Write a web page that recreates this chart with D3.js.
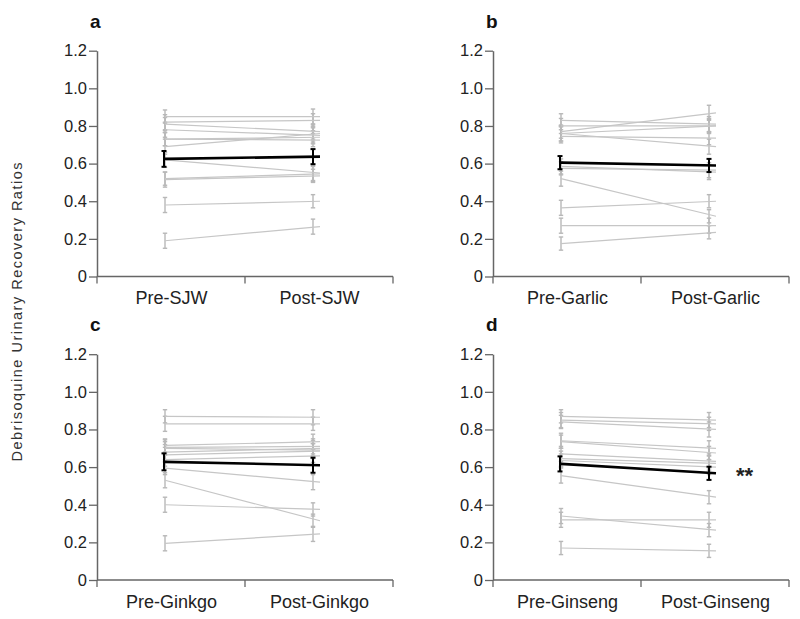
<!DOCTYPE html>
<html><head><meta charset="utf-8">
<script src="https://cdn.jsdelivr.net/npm/d3@7"></script>
<style>body{margin:0;background:#fff}svg{display:block}text{font-family:"Liberation Sans",Arial,sans-serif}</style>
</head><body><svg id="c" width="800" height="619"></svg>
<script>
const yTicks = [0, 0.2, 0.4, 0.6, 0.8, 1.0, 1.2];
const yTickLabels = ["0", "0.2", "0.4", "0.6", "0.8", "1.0", "1.2"];
const panelLetters = ["a", "b", "c", "d"];
const categoriesA = ["Pre-SJW", "Post-SJW"];
const categoriesB = ["Pre-Garlic", "Post-Garlic"];
const categoriesC = ["Pre-Ginkgo", "Post-Ginkgo"];
const categoriesD = ["Pre-Ginseng", "Post-Ginseng"];

const preA  = [0.85, 0.82, 0.81, 0.78, 0.73, 0.69, 0.62, 0.52, 0.515, 0.38, 0.19, 0.73];
const postA = [0.85, 0.83, 0.77, 0.75, 0.725, 0.76, 0.55, 0.545, 0.535, 0.40, 0.265, 0.74];
const preB  = [0.83, 0.80, 0.77, 0.76, 0.745, 0.76, 0.585, 0.575, 0.52, 0.365, 0.27, 0.175];
const postB = [0.81, 0.80, 0.87, 0.80, 0.735, 0.69, 0.555, 0.565, 0.32, 0.40, 0.27, 0.235];
const preC  = [0.87, 0.83, 0.715, 0.705, 0.70, 0.68, 0.665, 0.595, 0.53, 0.40, 0.195, 0.64];
const postC = [0.865, 0.83, 0.735, 0.71, 0.69, 0.70, 0.685, 0.52, 0.315, 0.375, 0.245, 0.66];
const preD  = [0.87, 0.85, 0.84, 0.74, 0.735, 0.67, 0.645, 0.635, 0.555, 0.34, 0.32, 0.17];
const postD = [0.85, 0.83, 0.80, 0.70, 0.675, 0.63, 0.62, 0.60, 0.44, 0.265, 0.32, 0.155];
const indivErr = [0.035, 0.04, 0.035, 0.04, 0.035, 0.04, 0.04, 0.035, 0.04, 0.04, 0.04, 0.035];

const meanA = [0.625, 0.637], meanErrA = [0.042, 0.04];
const meanB = [0.605, 0.59],  meanErrB = [0.035, 0.035];
const meanC = [0.628, 0.61],  meanErrC = [0.045, 0.04];
const meanD = [0.617, 0.567], meanErrD = [0.04, 0.035];
const significance = ["", "", "", "**"];

const panels = [
  {cats: categoriesA, pre: preA, post: postA, mean: meanA, mErr: meanErrA, left: 97, top: 50.7, bottom: 276.5},
  {cats: categoriesB, pre: preB, post: postB, mean: meanB, mErr: meanErrB, left: 493, top: 50.7, bottom: 276.5},
  {cats: categoriesC, pre: preC, post: postC, mean: meanC, mErr: meanErrC, left: 97, top: 354.2, bottom: 580},
  {cats: categoriesD, pre: preD, post: postD, mean: meanD, mErr: meanErrD, left: 493, top: 354.2, bottom: 580}
];
const W = 296;
const svg = d3.select("#c");
const axisCol = "#666";

panels.forEach((p, i) => {
  const g = svg.append("g").attr("transform", `translate(${p.left},0)`);
  const y = d3.scaleLinear().domain([0, 1.2]).range([p.bottom, p.top]);
  const band = d3.scaleBand().domain(p.cats).range([0, W]);
  const pt = d3.scalePoint().domain(p.cats).range([0, W]).padding(0.5);
  const xPre = pt(p.cats[0]) - 6, xPostBar = pt(p.cats[1]) - 6, xPostEnd = pt(p.cats[1]) + 1;

  const ya = g.append("g").call(d3.axisLeft(y).tickValues(yTicks).tickFormat((d, k) => yTickLabels[k]).tickSize(8).tickSizeOuter(0));
  ya.select(".domain").attr("stroke", axisCol).attr("stroke-width", 1.5);
  ya.selectAll(".tick line").attr("stroke", axisCol).attr("stroke-width", 1.3);
  ya.selectAll(".tick text").attr("font-size", 16.5).attr("fill", "#222").attr("x", -10).attr("font-family", "Liberation Sans, Arial, sans-serif");

  const xa = g.append("g").attr("transform", `translate(0,${p.bottom})`)
    .call(d3.axisBottom(pt).tickSize(0).tickPadding(15));
  xa.select(".domain").remove();
  xa.selectAll(".tick text").attr("font-size", 18).attr("fill", "#222").attr("font-family", "Liberation Sans, Arial, sans-serif");
  g.append("line").attr("x1", 0).attr("x2", W).attr("y1", p.bottom).attr("y2", p.bottom)
    .attr("stroke", axisCol).attr("stroke-width", 1.5);
  const bounds = [band(p.cats[0]), band(p.cats[1]), band(p.cats[1]) + band.bandwidth()];
  g.selectAll(".xt").data(bounds).join("line")
    .attr("x1", d => d).attr("x2", d => d).attr("y1", p.bottom).attr("y2", p.bottom + 7)
    .attr("stroke", axisCol).attr("stroke-width", 1.3);

  const gray = "#c6c6c6", errGray = "#b8b8b8";
  const idx = d3.range(p.pre.length);
  const drawErr = (xc, v, e, col, sw, cap) => {
    g.append("line").attr("x1", xc).attr("x2", xc).attr("y1", y(v - e)).attr("y2", y(v + e)).attr("stroke", col).attr("stroke-width", sw);
    [v - e, v + e].forEach(c => g.append("line").attr("x1", xc - cap).attr("x2", xc + cap).attr("y1", y(c)).attr("y2", y(c)).attr("stroke", col).attr("stroke-width", sw));
  };
  idx.forEach(k => { drawErr(xPre, p.pre[k], indivErr[k], errGray, 1.4, 2.2); drawErr(xPostBar, p.post[k], indivErr[(k + 3) % indivErr.length], errGray, 1.4, 2.2); });
  g.selectAll(".ind").data(idx).join("line")
    .attr("x1", xPre).attr("x2", xPostEnd)
    .attr("y1", k => y(p.pre[k])).attr("y2", k => y(p.post[k]))
    .attr("stroke", gray).attr("stroke-width", 1.2);
  g.append("line").attr("x1", xPre).attr("x2", xPostEnd).attr("y1", y(p.mean[0])).attr("y2", y(p.mean[1]))
    .attr("stroke", "#000").attr("stroke-width", 2.6);
  drawErr(xPre - 1, p.mean[0], p.mErr[0], "#000", 2, 2.5);
  drawErr(xPostBar, p.mean[1], p.mErr[1], "#000", 2, 2.5);

  svg.append("text").attr("x", p.left - 7).attr("y", p.top - 23).attr("font-size", 19).attr("font-weight", "bold")
    .attr("fill", "#111").text(panelLetters[i]);
  if (significance[i]) {
    g.append("text").attr("x", xPostEnd + 20).attr("y", y(p.mean[1]) + 10).attr("font-size", 22).attr("font-weight", "bold")
      .attr("fill", "#222").text(significance[i]);
  }
});

svg.append("text").attr("transform", "translate(22,312) rotate(-90)").attr("text-anchor", "middle")
  .attr("font-size", 14.5).attr("fill", "#333").attr("textLength", 299).attr("lengthAdjust", "spacing")
  .text("Debrisoquine Urinary Recovery Ratios");
</script></body></html>
